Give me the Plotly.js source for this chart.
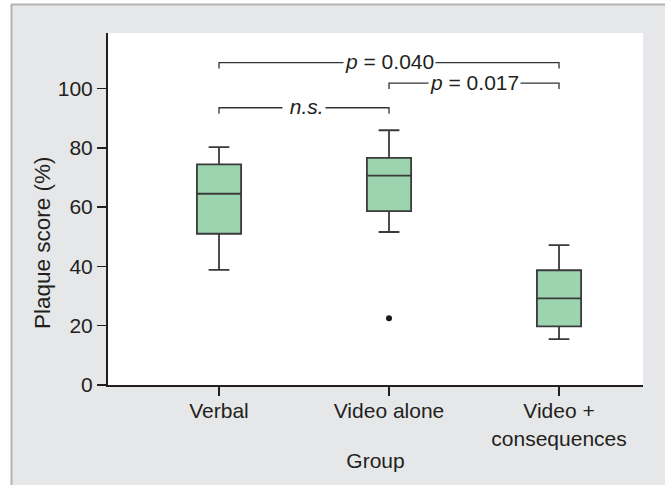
<!DOCTYPE html>
<html>
<head>
<meta charset="utf-8">
<script src="https://cdn.plot.ly/plotly-3.0.1.min.js"></script>
<style>html,body{margin:0;padding:0;background:#fff;}#chart{width:665px;height:485px;}</style>
</head>
<body>
<div id="chart"></div>
<script>
// ---- data ----
var groupPositions = [0, 1, 2];
var groupLabels = ["Verbal", "Video alone", "Video +<br>consequences"];
var lowerWhisker = [38.8, 51.6, 15.5];
var q1Values = [51.0, 58.6, 19.8];
var medianValues = [64.5, 70.6, 29.2];
var q3Values = [74.4, 76.6, 38.7];
var upperWhisker = [80.2, 85.9, 47.2];
var outlierX = [1];
var outlierY = [22.5];
var yTickValues = [0, 20, 40, 60, 80, 100];
// significance comparisons
var compLeft = [0, 1, 0];
var compRight = [2, 2, 1];
var compY = [108.7, 101.8, 93.5];
var compLabels = ["<i>p</i> = 0.040", "<i>p</i> = 0.017", " <i>n.s.</i>"];
var yTitle = "Plaque score (%)";
var xTitle = "Group";

var FONT = "Liberation Sans, Arial, sans-serif";
var FS = 21;
var INK = "#231f20";
var tickDrop = 2.0;

var traces = [
  {
    type: "box",
    x: groupPositions,
    q1: q1Values,
    median: medianValues,
    q3: q3Values,
    lowerfence: lowerWhisker,
    upperfence: upperWhisker,
    width: 0.26,
    whiskerwidth: 0.47,
    fillcolor: "#9dd4b0",
    line: {color: "#3a3a3a", width: 1.8},
    boxpoints: false,
    hoverinfo: "skip",
    showlegend: false
  },
  {
    type: "scatter",
    mode: "markers",
    x: outlierX,
    y: outlierY,
    marker: {color: "#1a1a1a", size: 6},
    hoverinfo: "skip",
    showlegend: false
  }
];

function px2x(p) { return (p - 108) / 535; }
function py2y(p) { return (385 - p) / 352; }

var shapes = [];
var annotations = [];
for (var i = 0; i < compY.length; i++) {
  var xa = compLeft[i], xb = compRight[i], yy = compY[i];
  shapes.push({
    type: "path", xref: "x", yref: "y",
    path: "M" + xa + "," + (yy - tickDrop) + " L" + xa + "," + yy + " L" + xb + "," + yy + " L" + xb + "," + (yy - tickDrop),
    line: {color: "#333333", width: 1.3}
  });
  annotations.push({
    x: (xa + xb) / 2, y: yy, xref: "x", yref: "y",
    text: compLabels[i], showarrow: false,
    font: {family: FONT, size: FS, color: INK},
    bgcolor: "#ffffff", borderpad: 1,
    xanchor: "center", yanchor: "middle", yshift: 1
  });
}
// y-axis title (rotated text, centred on the 0-100 span like the reference)
annotations.push({
  xref: "paper", yref: "paper", x: px2x(42), y: py2y(243), text: yTitle,
  textangle: -90, showarrow: false, xanchor: "center", yanchor: "middle",
  font: {family: FONT, size: 22.5, color: INK}
});

shapes = shapes.concat([
  {type: "rect", xref: "paper", yref: "paper", x0: px2x(-5), x1: px2x(670), y0: py2y(4), y1: py2y(-5), fillcolor: "#ffffff", line: {width: 0}},
  {type: "rect", xref: "paper", yref: "paper", x0: px2x(-5), x1: px2x(11), y0: py2y(490), y1: py2y(-5), fillcolor: "#ffffff", line: {width: 0}},
  {type: "line", xref: "paper", yref: "paper", x0: px2x(11), x1: px2x(670), y0: py2y(4.5), y1: py2y(4.5), line: {color: "#b4b4b4", width: 2}},
  {type: "line", xref: "paper", yref: "paper", x0: px2x(11.5), x1: px2x(11.5), y0: py2y(4), y1: py2y(490), line: {color: "#b4b4b4", width: 2}}
]);

var layout = {
  width: 665, height: 485,
  margin: {l: 108, r: 22, t: 33, b: 100},
  paper_bgcolor: "#e6e7e9",
  plot_bgcolor: "#ffffff",
  font: {family: FONT, size: FS, color: INK},
  xaxis: {
    range: [-0.653, 2.494],
    tickvals: groupPositions,
    ticktext: groupLabels,
    ticks: "outside", ticklen: 9, tickwidth: 1.5, tickcolor: INK,
    ticklabelstandoff: -3,
    showline: true, linecolor: INK, linewidth: 2,
    showgrid: false, zeroline: false,
    tickfont: {family: FONT, size: FS, color: INK},
    title: {text: xTitle, font: {family: FONT, size: FS, color: INK}, standoff: 5}
  },
  yaxis: {
    range: [0, 118.7],
    tickvals: yTickValues,
    ticks: "outside", ticklen: 9, tickwidth: 1.5, tickcolor: INK,
    showline: true, linecolor: INK, linewidth: 2,
    showgrid: false, zeroline: false,
    tickfont: {family: FONT, size: FS, color: INK}
  },
  shapes: shapes,
  annotations: annotations
};

Plotly.newPlot("chart", traces, layout, {displayModeBar: false, staticPlot: true});
</script>
</body>
</html>
